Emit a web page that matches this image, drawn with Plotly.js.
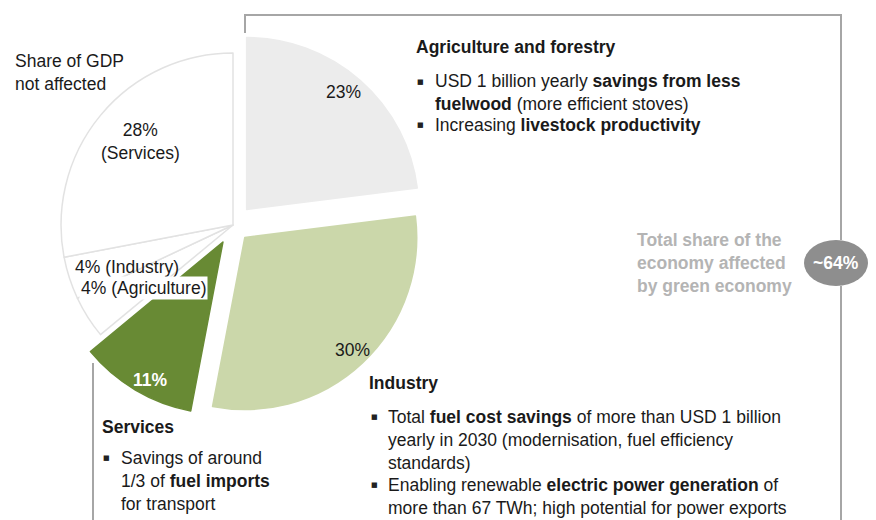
<!DOCTYPE html>
<html><head><meta charset="utf-8">
<script src="https://cdn.plot.ly/plotly-3.0.1.min.js"></script>
<style>html,body{margin:0;padding:0;background:#fff}#chart{width:876px;height:520px}</style>
</head><body><div id="chart"></div>
<script>
// ---- data ----
const sectors = ['Agriculture and forestry', 'Industry', 'Services', 'Agriculture', 'Industry', 'Services'];
const shares = [23, 30, 11, 4, 4, 28];
const affected = [true, true, true, false, false, false];
const agriTitle = 'Agriculture and forestry';
const agriBullets = ['USD 1 billion yearly <b>savings from less</b><br><b>fuelwood</b> (more efficient stoves)', 'Increasing <b>livestock productivity</b>'];
const indTitle = 'Industry';
const indBullets = ['Total <b>fuel cost savings</b> of more than USD 1 billion<br>yearly in 2030 (modernisation, fuel efficiency<br>standards)', 'Enabling renewable <b>electric power generation</b> of<br>more than 67 TWh; high potential for power exports'];
const servTitle = 'Services';
const servBullets = ['Savings of around<br>1/3 of <b>fuel imports</b><br>for transport'];
const notAffectedLabel = 'Share of GDP<br>not affected';
const totalLabel = 'Total share of the<br>economy affected<br>by green economy';

// ---- styles ----
const W = 876, H = 520;
const FONT = 'Liberation Sans, Arial, sans-serif';
const FS = 17.5;
const TXT = '#1a1a1a';
const sliceColors = ['#ececec', '#cbd7aa', '#688a34', '#ffffff', '#ffffff', '#ffffff'];
const lineColors = ['#ececec', '#cbd7aa', '#688a34', '#e2e2e2', '#e2e2e2', '#e2e2e2'];
const pulls = [0.12, 0.10, 0.115, 0, 0, 0];

const px = x => x / W, py = y => 1 - y / H;

const totalAffected = shares.reduce((s, v, i) => s + (affected[i] ? v : 0), 0);

const trace = {
  type: 'pie',
  labels: sectors.map((s, i) => s + (affected[i] ? '' : ' (not affected)')),
  values: shares,
  sort: false,
  direction: 'clockwise',
  rotation: 0,
  pull: pulls,
  textinfo: 'none',
  hoverinfo: 'none',
  showlegend: false,
  marker: { colors: sliceColors, line: { color: lineColors, width: 1.5 } },
  domain: { x: [40.4 / W, 425.6 / W], y: [1 - 417.6 / H, 1 - 32.4 / H] }
};

function ann(x, y, text, o) {
  o = o || {};
  return Object.assign({
    xref: 'paper', yref: 'paper', x: px(x), y: py(y), text: text, showarrow: false,
    xanchor: 'left', yanchor: 'middle', align: 'left',
    font: { family: FONT, size: FS, color: TXT }
  }, o);
}
const bullet = (x, y) => ann(x, y, '■', { xanchor: 'center', font: { family: 'DejaVu Sans', size: 7, color: '#222' } });

const annotations = [
  // slice labels
  ann(343, 92, shares[0] + '%', { xanchor: 'center' }),
  ann(352, 350, shares[1] + '%', { xanchor: 'center' }),
  ann(150, 380, '<b>' + shares[2] + '%</b>', { xanchor: 'center', font: { family: FONT, size: FS, color: '#ffffff' } }),
  ann(140, 142, shares[5] + '%<br>(' + sectors[5] + ')', { xanchor: 'center', align: 'center' }),
  ann(73, 267, shares[4] + '% (' + sectors[4] + ')'),
  ann(79, 288, shares[3] + '% (' + sectors[3] + ')', { bgcolor: '#ffffff', borderpad: 1 }),
  ann(13, 72.5, notAffectedLabel),
  // Agriculture box
  ann(414, 47, '<b>' + agriTitle + '</b>'),
  bullet(420, 82), ann(433, 92.5, agriBullets[0]),
  bullet(420, 125), ann(433, 125, agriBullets[1]),
  // Industry
  ann(367, 383, '<b>' + indTitle + '</b>'),
  bullet(374, 417), ann(386, 440, indBullets[0]),
  bullet(374, 485), ann(386, 496, indBullets[1]),
  // Services
  ann(100, 427, '<b>' + servTitle + '</b>'),
  bullet(106, 458), ann(119, 481, servBullets[0]),
  // total
  ann(635, 262.5, '<b>' + totalLabel + '</b>', { font: { family: FONT, size: FS, color: '#b4b4b4' } }),
  ann(836, 263, '<b>~' + totalAffected + '%</b>', { xanchor: 'center', font: { family: FONT, size: FS, color: '#ffffff' } })
];

const LC = '#a6a6a6';
const ln = (x0, y0, x1, y1) => ({ type: 'line', xref: 'paper', yref: 'paper', x0: px(x0), y0: py(y0), x1: px(x1), y1: py(y1), line: { color: LC, width: 2 }, layer: 'below' });
const shapes = [
  ln(245, 15, 841, 15),
  ln(245, 14, 245, 33),
  ln(841, 14, 841, 240),
  ln(841, 286, 841, 520),
  ln(93, 363, 93, 520),
  { type: 'circle', xref: 'paper', yref: 'paper', x0: px(804), x1: px(868), y0: py(240), y1: py(286), fillcolor: '#8e8e8e', line: { width: 0 }, layer: 'above' }
];

Plotly.newPlot('chart', [trace], {
  width: W, height: H,
  margin: { l: 0, r: 0, t: 0, b: 0 },
  paper_bgcolor: '#ffffff', plot_bgcolor: '#ffffff',
  font: { family: FONT, size: FS, color: TXT },
  annotations: annotations,
  shapes: shapes
}, { displayModeBar: false, staticPlot: true });
</script>
</body></html>
